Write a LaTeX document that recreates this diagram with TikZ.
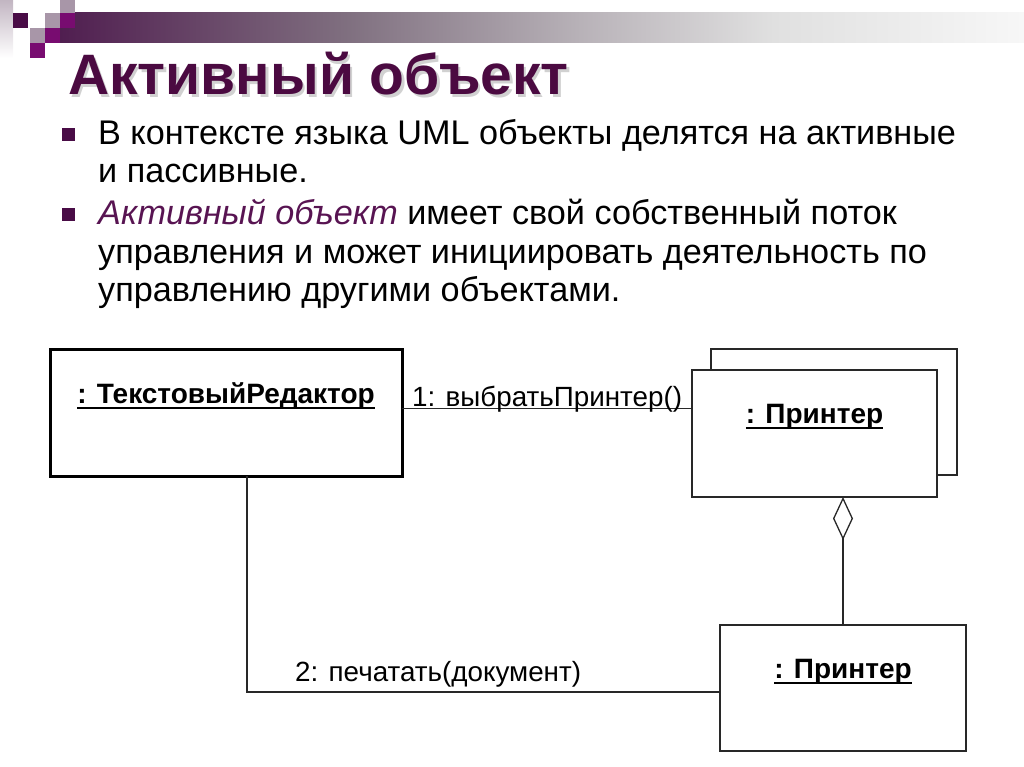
\documentclass[tikz,border=0pt]{standalone}
\usepackage{fontspec}
\setmainfont{Liberation Sans}
\usetikzlibrary{arrows.meta}
\definecolor{titlecol}{RGB}{75,10,65}
\definecolor{darkpurple}{RGB}{73,12,70}
\definecolor{magentap}{RGB}{120,12,112}
\definecolor{lilac}{RGB}{168,150,168}
\definecolor{emphcol}{RGB}{88,20,82}
\definecolor{linecol}{RGB}{40,40,40}
\definecolor{barA}{RGB}{80,30,80}
\definecolor{barB}{RGB}{128,112,128}
\definecolor{barC}{RGB}{184,178,184}
\definecolor{barD}{RGB}{224,224,224}
\definecolor{barE}{RGB}{247,247,247}
\pgfdeclarehorizontalshading{barshade}{100bp}{
  color(0bp)=(barA);
  color(25bp)=(barA);
  color(40bp)=(barB);
  color(52bp)=(barC);
  color(62bp)=(barD);
  color(75bp)=(barE);
  color(100bp)=(barE)}
\newcommand\myul[1]{\leavevmode\setbox0=\hbox{#1}\rlap{\copy0}\rule[-6pt]{\wd0}{2pt}}
\newcommand\shadowtext[1]{\rlap{\hspace{2.5pt}\raisebox{-2.5pt}{\textcolor{black!18}{#1}}}#1}
\tikzset{
  objbox/.style={draw=linecol, line width=1.5pt, fill=white, inner sep=0pt, outer sep=0pt, anchor=north west},
  activebox/.style={draw=black, line width=3pt, fill=white, inner sep=0pt, outer sep=0pt, anchor=north west},
  objlabel/.style={font=\fontsize{28}{32}\selectfont\bfseries, anchor=base, inner sep=0pt},
  msglabel/.style={font=\fontsize{27.8}{32}\selectfont, anchor=base west, inner sep=0pt},
  bodytext/.style={font=\fontsize{34.2}{38}\selectfont, anchor=base west, inner sep=0pt},
  bullet/.style={fill=darkpurple, draw=none, minimum size=12.5pt, inner sep=0pt, anchor=north west},
  conn/.style={draw=linecol, line width=1.3pt},
  sq/.style={draw=none, minimum size=15pt, inner sep=0pt, anchor=north west}
}
\begin{document}
\begin{tikzpicture}[x=1pt,y=-1pt]
\useasboundingbox (0,0) rectangle (1024,767);
% decoration
\shade[top color=lilac!70, bottom color=white] (0,0) rectangle (13,58);
\shade[shading=barshade] (60,13) rectangle (1024,43);
\node[sq, fill=lilac] (s1) at (60,0) {};
\node[sq, fill=darkpurple] (s2) at (13,13) {};
\node[sq, fill=lilac] (s3) at (45,13) {};
\node[sq, fill=magentap] (s4) at (60,13) {};
\node[sq, fill=lilac] (s5) at (30,28) {};
\node[sq, fill=magentap] (s6) at (45,28) {};
\node[sq, fill=magentap] (s7) at (30,43) {};
% title (with soft shadow)
\node[anchor=base west, inner sep=0pt, text=titlecol, font=\fontsize{57}{64}\selectfont\bfseries] (title) at (68,95) {\shadowtext{Активный объект}};
% bullets
\node[bullet] (b1) at (62,128) {};
\node[bullet] (b2) at (62,208) {};
\node[bodytext] (l1) at (98,145) {В контексте языка UML объекты делятся на активные};
\node[bodytext] (l2) at (98,183) {и пассивные.};
\node[bodytext] (l3) at (98,225) {\textcolor{emphcol}{\itshape Активный объект} имеет свой собственный поток};
\node[bodytext] (l4) at (98,263) {управления и может инициировать деятельность по};
\node[bodytext] (l5) at (98,301) {управлению другими объектами.};
% diagram
\node[activebox, minimum width=352pt, minimum height=127pt] (editor) at (50,349) {};
\node[objbox, minimum width=246pt, minimum height=126pt] (pback) at (711,349) {};
\node[objbox, minimum width=245pt, minimum height=127pt] (pfront) at (692,370) {};
\node[objbox, minimum width=246pt, minimum height=126pt] (pbottom) at (720,625) {};
\node[objlabel] (editorlbl) at ([yshift=-54pt]editor.north) {\myul{: ТекстовыйРедактор}};
\node[objlabel] (pfrontlbl) at ([yshift=-53pt]pfront.north) {\myul{: Принтер}};
\node[objlabel] (pbottomlbl) at ([yshift=-53pt]pbottom.north) {\myul{: Принтер}};
% connectors
\draw[conn] ([yshift=4pt]editor.east) -- ([yshift=4pt]editor.east -| pfront.west);
\draw[conn, -{Diamond[open, width=20pt, length=43pt, line width=1.3pt]}] (pbottom.north) -- (pbottom.north |- pfront.south);
\draw[conn] ([xshift=21pt]editor.south) |- ([yshift=-4pt]pbottom.west);
\node[msglabel] (m1) at (412,406) {1: выбратьПринтер()};
\node[msglabel] (m2) at (295,681) {2: печатать(документ)};
\end{tikzpicture}
\end{document}
